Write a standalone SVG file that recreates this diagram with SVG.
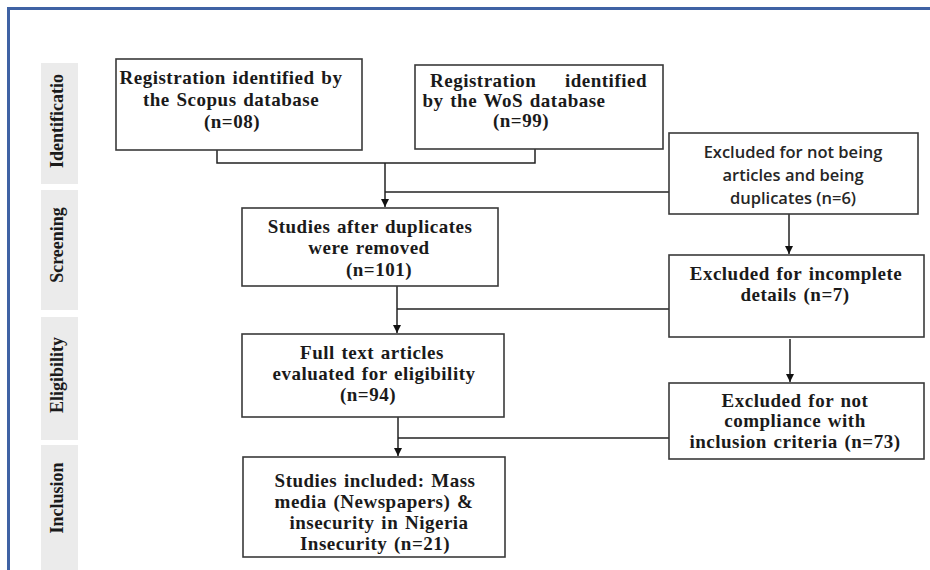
<svg xmlns="http://www.w3.org/2000/svg" width="930" height="570" viewBox="0 0 930 570">
<defs>
<style>
.frame{fill:none;stroke:#3f62a4;stroke-width:3}
.tab{fill:#ebebeb}
.tabt{font-family:"Liberation Serif",serif;font-weight:bold;font-size:18px;fill:#1a1a1a;text-anchor:middle}
.box{fill:#fff;stroke:#3a3a3a;stroke-width:1.6}
.t{font-family:"Liberation Serif",serif;font-weight:bold;font-size:19px;letter-spacing:0.5px;word-spacing:1.5px;fill:#1a1a1a;text-anchor:middle}
.s{font-family:"Open Sans","Noto Sans",sans-serif;font-weight:600;font-size:16.5px;fill:#262626;text-anchor:middle}
.c{fill:none;stroke:#222;stroke-width:1.5}
</style>
<marker id="arr" viewBox="0 0 10 10" refX="10" refY="5" markerWidth="8" markerHeight="8" markerUnits="userSpaceOnUse" orient="auto">
<path d="M0,0 L10,5 L0,10 Z" fill="#111"/>
</marker>
</defs>
<rect width="930" height="570" fill="#fff"/>
<path class="frame" d="M8.5,570 V8.5 H930"/>

<g id="tab-identification"><rect class="tab" x="41" y="63" width="37" height="121"/><text class="tabt" transform="translate(63,121) rotate(-90)">Identificatio</text></g>
<g id="tab-screening"><rect class="tab" x="41" y="190" width="37" height="120"/><text class="tabt" transform="translate(63,245) rotate(-90)">Screening</text></g>
<g id="tab-eligibility"><rect class="tab" x="41" y="317" width="37" height="123"/><text class="tabt" transform="translate(63,375) rotate(-90)">Eligibility</text></g>
<g id="tab-inclusion"><rect class="tab" x="41" y="445" width="37" height="125"/><text class="tabt" transform="translate(63,498) rotate(-90)">Inclusion</text></g>

<g id="connectors">
<path class="c" d="M217,150 V163 H535 V149"/>
<path class="c" d="M385,163 V207" marker-end="url(#arr)"/>
<path class="c" d="M385,192 H669"/>
<path class="c" d="M789,214 V254" marker-end="url(#arr)"/>
<path class="c" d="M397,286 V333" marker-end="url(#arr)"/>
<path class="c" d="M397,309 H669"/>
<path class="c" d="M790,339 V382" marker-end="url(#arr)"/>
<path class="c" d="M398,417 V456" marker-end="url(#arr)"/>
<path class="c" d="M398,438 H669"/>
</g>

<g id="scopus"><rect class="box" x="116" y="59" width="246" height="91"/>
<text class="t" x="231" y="84">Registration identified by</text>
<text class="t" x="231" y="106">the Scopus database</text>
<text class="t" x="232" y="128">(n=08)</text></g>

<g id="wos"><rect class="box" x="415" y="65" width="248" height="84"/>
<text class="t" x="430" y="87" style="text-anchor:start">Registration</text>
<text class="t" x="647" y="87" style="text-anchor:end">identified</text>
<text class="t" x="514" y="107">by the WoS database</text>
<text class="t" x="521" y="127">(n=99)</text></g>

<g id="excluded-duplicates"><rect class="box" x="669" y="133" width="249" height="81"/>
<text class="s" x="793" y="158">Excluded for not being</text>
<text class="s" x="793" y="181">articles and being</text>
<text class="s" x="793" y="204">duplicates (n=6)</text></g>

<g id="after-duplicates"><rect class="box" x="242" y="208" width="256" height="78"/>
<text class="t" x="370" y="233">Studies after duplicates</text>
<text class="t" x="369" y="254">were removed</text>
<text class="t" x="379" y="276">(n=101)</text></g>

<g id="excluded-incomplete"><rect class="box" x="669" y="255" width="255" height="82"/>
<text class="t" x="796" y="280">Excluded for incomplete</text>
<text class="t" x="795" y="301">details (n=7)</text></g>

<g id="full-text"><rect class="box" x="242" y="334" width="262" height="83"/>
<text class="t" x="372" y="359">Full text articles</text>
<text class="t" x="374" y="380">evaluated for eligibility</text>
<text class="t" x="368" y="401">(n=94)</text></g>

<g id="excluded-criteria"><rect class="box" x="669" y="383" width="255" height="76"/>
<text class="t" x="795" y="407">Excluded for not</text>
<text class="t" x="795" y="427">compliance with</text>
<text class="t" x="795" y="448">inclusion criteria (n=73)</text></g>

<g id="included"><rect class="box" x="243" y="457" width="262" height="100"/>
<text class="t" x="375" y="487">Studies included: Mass</text>
<text class="t" x="374" y="508">media (Newspapers) &amp;</text>
<text class="t" x="379" y="529">insecurity in Nigeria</text>
<text class="t" x="375" y="550">Insecurity (n=21)</text></g>
</svg>
